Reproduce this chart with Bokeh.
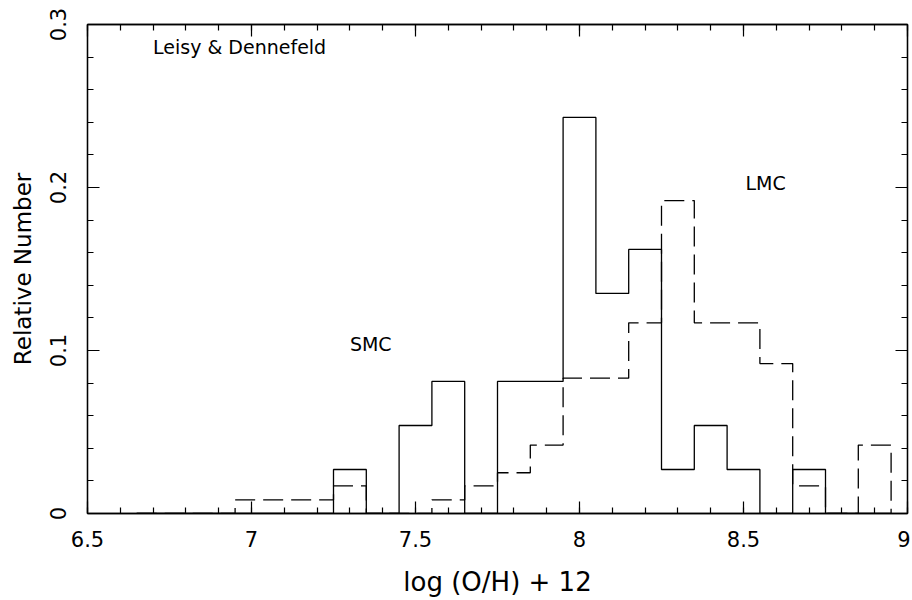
from bokeh.plotting import figure
from bokeh.models import (Range1d, LinearAxis, FixedTicker, CustomJSTickFormatter, Label)
from bokeh.embed import file_html
from bokeh.resources import INLINE

# Bin centres (log(O/H)+12), bin width 0.1
bin_centers = [6.7, 6.8, 6.9, 7.0, 7.1, 7.2, 7.3, 7.4, 7.5, 7.6, 7.7, 7.8,
               7.9, 8.0, 8.1, 8.2, 8.3, 8.4, 8.5, 8.6, 8.7, 8.8, 8.9]
bin_width = 0.1

# SMC relative numbers (solid)
smc = [0, 0, 0, 0, 0, 0, 0.027, 0, 0.054, 0.081, 0, 0.081,
       0.081, 0.243, 0.135, 0.162, 0.027, 0.054, 0.027, 0, 0.027, 0, 0]
# LMC relative numbers (dashed)
lmc = [0, 0, 0, 0.0083, 0.0083, 0.0083, 0.017, 0, 0, 0.0083, 0.017, 0.025,
       0.042, 0.083, 0.083, 0.117, 0.192, 0.117, 0.117, 0.092, 0.017, 0, 0.042]

x_major_ticks = [6.5, 7.0, 7.5, 8.0, 8.5, 9.0]
x_minor_ticks = [round(6.5 + 0.1 * i, 2) for i in range(26)]
y_major_ticks = [0, 0.1, 0.2, 0.3]
y_minor_ticks = [round(0.02 * i, 2) for i in range(16)]

FONT = "DejaVu Sans"

p = figure(width=910, height=600, output_backend="svg", toolbar_location=None,
           x_range=Range1d(6.5, 9.0), y_range=Range1d(0, 0.3),
           min_border_left=87, min_border_right=3, min_border_top=24, min_border_bottom=87)
p.xgrid.visible = False
p.ygrid.visible = False
p.outline_line_color = "black"
p.outline_line_width = 1.3
p.background_fill_color = "white"
p.border_fill_color = "white"

edges = [c - bin_width / 2 for c in bin_centers] + [bin_centers[-1] + bin_width / 2]
smc_y = smc + [0]
lmc_y = lmc + [0]

p.step(edges, smc_y, mode="after", line_color="black", line_width=1.3)
p.step(edges, lmc_y, mode="after", line_color="black", line_width=1.3, line_dash="20 8")

fmt = CustomJSTickFormatter(code="return String(parseFloat(tick.toFixed(3)));")

def style(ax, labels=True):
    ax.axis_line_color = "black"
    ax.axis_line_width = 1.3
    ax.major_tick_in = 12
    ax.major_tick_out = 0
    ax.minor_tick_in = 6
    ax.minor_tick_out = 0
    ax.major_tick_line_color = "black"
    ax.minor_tick_line_color = "black"
    ax.major_tick_line_width = 1.2
    ax.minor_tick_line_width = 1.2
    if not labels:
        ax.major_label_text_color = None
        ax.major_label_text_font_size = "0px"
    else:
        ax.major_label_text_font = FONT
        ax.major_label_text_font_size = "21px"
        ax.major_label_text_color = "black"
        ax.axis_label_text_font = FONT
        ax.axis_label_text_font_style = "normal"
        ax.axis_label_text_color = "black"

xa = p.xaxis[0]
xa.ticker = FixedTicker(ticks=x_major_ticks, minor_ticks=x_minor_ticks)
xa.formatter = fmt
xa.axis_label = "log (O/H) + 12"
style(xa)
xa.axis_label_text_font_size = "26px"
xa.major_label_standoff = 17
xa.axis_label_standoff = 17

ya = p.yaxis[0]
ya.ticker = FixedTicker(ticks=y_major_ticks, minor_ticks=y_minor_ticks)
ya.formatter = fmt
ya.axis_label = "Relative Number"
style(ya)
ya.axis_label_text_font_size = "23px"
ya.major_label_orientation = "vertical"
ya.major_label_standoff = 22
ya.axis_label_standoff = 11

top = LinearAxis(ticker=FixedTicker(ticks=x_major_ticks, minor_ticks=x_minor_ticks))
style(top, labels=False)
p.add_layout(top, "above")
right = LinearAxis(ticker=FixedTicker(ticks=y_major_ticks, minor_ticks=y_minor_ticks))
style(right, labels=False)
p.add_layout(right, "right")

annotations = [("Leisy & Dennefeld", 6.70, 0.2865),
               ("SMC", 7.30, 0.1037),
               ("LMC", 8.506, 0.2025)]
for txt, ax_, ay_ in annotations:
    p.add_layout(Label(x=ax_, y=ay_, text=txt, text_font=FONT, text_font_size="19px",
                       text_baseline="middle", text_align="left", text_color="black"))

open("out.html", "w").write(file_html(p, INLINE))
